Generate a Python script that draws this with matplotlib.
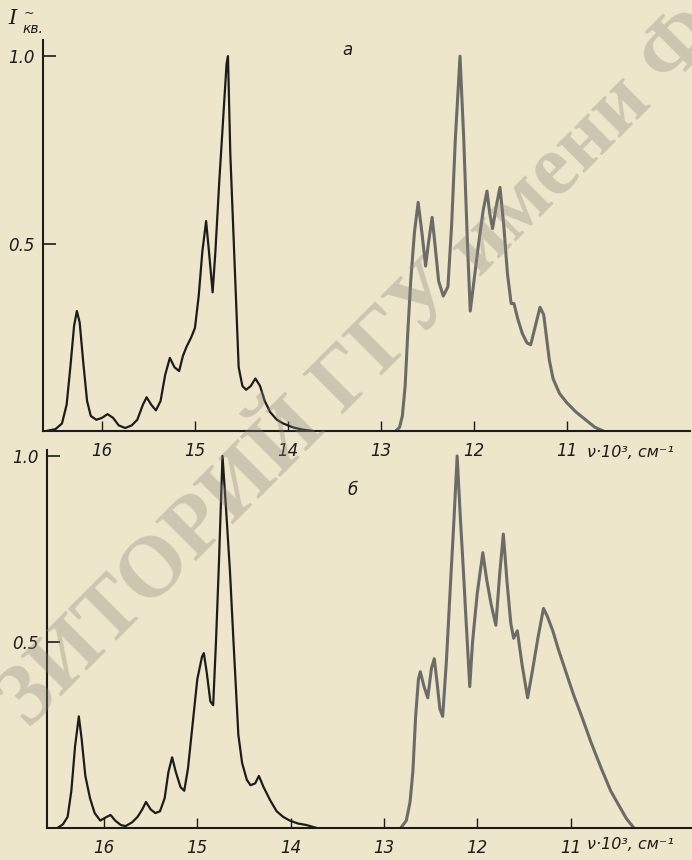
import matplotlib
matplotlib.use("Agg")
import matplotlib.pyplot as plt

# ---------------- data ----------------
# panel "а", short-wave band (black curve)
nu_a1 = [16.60, 16.50, 16.43, 16.38, 16.34, 16.30, 16.27, 16.24, 16.20, 16.16,
         16.12, 16.06, 16.00, 15.94, 15.88, 15.82, 15.75, 15.68, 15.62, 15.56,
         15.52, 15.47, 15.42, 15.37, 15.32, 15.27, 15.22, 15.17, 15.13, 15.09,
         15.04, 15.00, 14.96, 14.92, 14.88, 14.85, 14.81, 14.78, 14.74, 14.70,
         14.66, 14.645, 14.62, 14.59, 14.56, 14.53, 14.49, 14.45, 14.40, 14.35,
         14.30, 14.25, 14.19, 14.12, 14.05, 13.95, 13.85, 13.73]
I_a1 = [0.00, 0.005, 0.02, 0.07, 0.17, 0.28, 0.32, 0.29, 0.18, 0.08,
        0.04, 0.03, 0.035, 0.045, 0.035, 0.015, 0.008, 0.015, 0.03, 0.07,
        0.09, 0.07, 0.055, 0.08, 0.15, 0.195, 0.17, 0.16, 0.20, 0.225,
        0.25, 0.275, 0.36, 0.48, 0.56, 0.48, 0.37, 0.48, 0.66, 0.82,
        0.98, 1.0, 0.74, 0.55, 0.36, 0.17, 0.12, 0.11, 0.12, 0.14,
        0.12, 0.08, 0.05, 0.03, 0.02, 0.01, 0.004, 0.0]

# panel "а", long-wave band (grey curve)
nu_a2 = [12.84, 12.80, 12.77, 12.74, 12.71, 12.68, 12.64, 12.60, 12.56, 12.52,
         12.49, 12.45, 12.42, 12.38, 12.33, 12.28, 12.24, 12.20, 12.15, 12.11,
         12.07, 12.04, 12.00, 11.95, 11.90, 11.86, 11.83, 11.80, 11.76, 11.72,
         11.68, 11.64, 11.60, 11.57, 11.53, 11.48, 11.43, 11.39, 11.34, 11.29,
         11.25, 11.22, 11.19, 11.15, 11.08, 11.00, 10.90, 10.80, 10.70, 10.61]
I_a2 = [0.0, 0.01, 0.04, 0.12, 0.27, 0.40, 0.53, 0.61, 0.53, 0.44,
        0.50, 0.57, 0.50, 0.40, 0.36, 0.385, 0.55, 0.78, 1.0, 0.78,
        0.50, 0.32, 0.40, 0.50, 0.59, 0.64, 0.58, 0.54, 0.60, 0.65,
        0.55, 0.42, 0.34, 0.34, 0.30, 0.26, 0.235, 0.23, 0.28, 0.33,
        0.31, 0.25, 0.19, 0.14, 0.10, 0.075, 0.05, 0.03, 0.01, 0.0]

# panel "б", short-wave band (black curve)
nu_b1 = [16.50, 16.44, 16.39, 16.35, 16.31, 16.27, 16.24, 16.20, 16.15, 16.10,
         16.04, 15.97, 15.93, 15.88, 15.82, 15.77, 15.70, 15.64, 15.59, 15.55,
         15.50, 15.45, 15.40, 15.35, 15.31, 15.27, 15.23, 15.18, 15.14, 15.10,
         15.05, 15.00, 14.95, 14.93, 14.90, 14.86, 14.83, 14.80, 14.77, 14.73,
         14.69, 14.65, 14.61, 14.56, 14.52, 14.47, 14.43, 14.38, 14.34, 14.29,
         14.22, 14.15, 14.08, 14.01, 13.92, 13.83, 13.72]
I_b1 = [0.0, 0.01, 0.03, 0.10, 0.22, 0.30, 0.24, 0.14, 0.08, 0.04,
        0.02, 0.03, 0.035, 0.02, 0.008, 0.005, 0.015, 0.03, 0.05, 0.07,
        0.05, 0.04, 0.045, 0.08, 0.15, 0.19, 0.15, 0.11, 0.10, 0.16,
        0.28, 0.40, 0.46, 0.47, 0.42, 0.34, 0.33, 0.50, 0.70, 1.0,
        0.85, 0.69, 0.49, 0.25, 0.175, 0.13, 0.115, 0.12, 0.14, 0.11,
        0.075, 0.045, 0.03, 0.02, 0.012, 0.008, 0.0]

# panel "б", long-wave band (grey curve)
nu_b2 = [12.82, 12.76, 12.72, 12.69, 12.66, 12.63, 12.61, 12.57, 12.53, 12.49,
         12.46, 12.43, 12.40, 12.37, 12.33, 12.29, 12.25, 12.215, 12.18, 12.15,
         12.12, 12.08, 12.05, 12.00, 11.94, 11.90, 11.85, 11.80, 11.76, 11.72,
         11.68, 11.64, 11.61, 11.57, 11.52, 11.46, 11.41, 11.35, 11.29, 11.25,
         11.19, 11.13, 11.05, 10.97, 10.88, 10.78, 10.67, 10.57, 10.48, 10.40,
         10.32]
I_b2 = [0.0, 0.02, 0.07, 0.15, 0.30, 0.40, 0.42, 0.38, 0.35, 0.43,
        0.455, 0.39, 0.32, 0.30, 0.45, 0.64, 0.825, 1.0, 0.83, 0.70,
        0.56, 0.38, 0.50, 0.63, 0.74, 0.67, 0.60, 0.545, 0.68, 0.79,
        0.66, 0.55, 0.51, 0.53, 0.44, 0.35, 0.42, 0.51, 0.59, 0.57,
        0.53, 0.48, 0.42, 0.36, 0.30, 0.23, 0.16, 0.10, 0.06, 0.025,
        0.0]

x_ticks = [16, 15, 14, 13, 12, 11]
x_tick_labels = ["16", "15", "14", "13", "12", "11"]
y_ticks = [0.5, 1.0]
y_tick_labels = ["0.5", "1.0"]
panel_labels = ["а", "б"]

# ---------------- styling ----------------
paper = "#eee6cb"
ink = "#1c1c1c"
grey_ink = "#6b6b68"

fig = plt.figure(figsize=(6.92, 8.60), dpi=100)
fig.patch.set_facecolor(paper)

axes_specs = [
    # left, bottom, width, height, xlim, ylim
    ([43 / 692, (860 - 431) / 860, (690 - 43) / 692, (431 - 40) / 860], (16.634, 9.677), (0, 1.043)),
    ([47 / 692, (860 - 828) / 860, (692 - 47) / 692, (828 - 450) / 860], (16.611, 9.698), (0, 1.016)),
]
series = [((nu_a1, I_a1), (nu_a2, I_a2)), ((nu_b1, I_b1), (nu_b2, I_b2))]
label_pos = [(0.471, 0.975), (0.474, 0.895)]

for k, ((rect, xl, yl), (s1, s2)) in enumerate(zip(axes_specs, series)):
    ax = fig.add_axes(rect)
    ax.set_facecolor("none")
    ax.plot(s1[0], s1[1], color=ink, lw=1.6, solid_joinstyle="round", solid_capstyle="round")
    ax.plot(s2[0], s2[1], color=grey_ink, lw=2.2, solid_joinstyle="round", solid_capstyle="round")
    ax.set_xlim(*xl)
    ax.set_ylim(*yl)
    for side in ("top", "right"):
        ax.spines[side].set_visible(False)
    for side in ("left", "bottom"):
        ax.spines[side].set_color(ink)
        ax.spines[side].set_linewidth(1.5)
    ax.set_xticks(x_ticks)
    ax.set_xticklabels(x_tick_labels, fontstyle="italic", fontsize=12, color=ink)
    ax.set_yticks(y_ticks)
    ax.set_yticklabels(y_tick_labels, fontstyle="italic", fontsize=12, color=ink)
    ax.tick_params(axis="x", direction="in", length=7, width=1.0, pad=8, colors=ink)
    ax.tick_params(axis="y", direction="in", length=9, width=1.2, pad=6, colors=ink)
    ax.text(label_pos[k][0], label_pos[k][1], panel_labels[k], transform=ax.transAxes,
            fontsize=12, fontstyle="italic", color=ink, ha="center", va="center")

# axis titles
fig.text(0.0125, 0.978, "I", fontsize=15, fontstyle="italic", family="DejaVu Serif",
         color=ink, ha="left", va="center")
fig.text(0.032, 0.966, "кв.", fontsize=10, fontstyle="italic", color=ink, ha="left", va="center")
fig.text(0.042, 0.985, "~", fontsize=9, color=ink, ha="center", va="center")
fig.text(0.848, 0.474, "ν·10³, см⁻¹", fontsize=11.5, fontstyle="italic", color=ink,
         ha="left", va="center")
fig.text(0.848, 0.018, "ν·10³, см⁻¹", fontsize=11.5, fontstyle="italic", color=ink,
         ha="left", va="center")

# scan watermark
fig.text(0.52, 0.572, "ЗИТОРИЙ ГГУ имени Ф", fontsize=62, family="Liberation Serif",
         fontweight="bold", color="#8a857c", alpha=0.34, rotation=45, ha="center",
         va="center", rotation_mode="anchor")

fig.savefig("out.png", dpi=100, facecolor=paper)
